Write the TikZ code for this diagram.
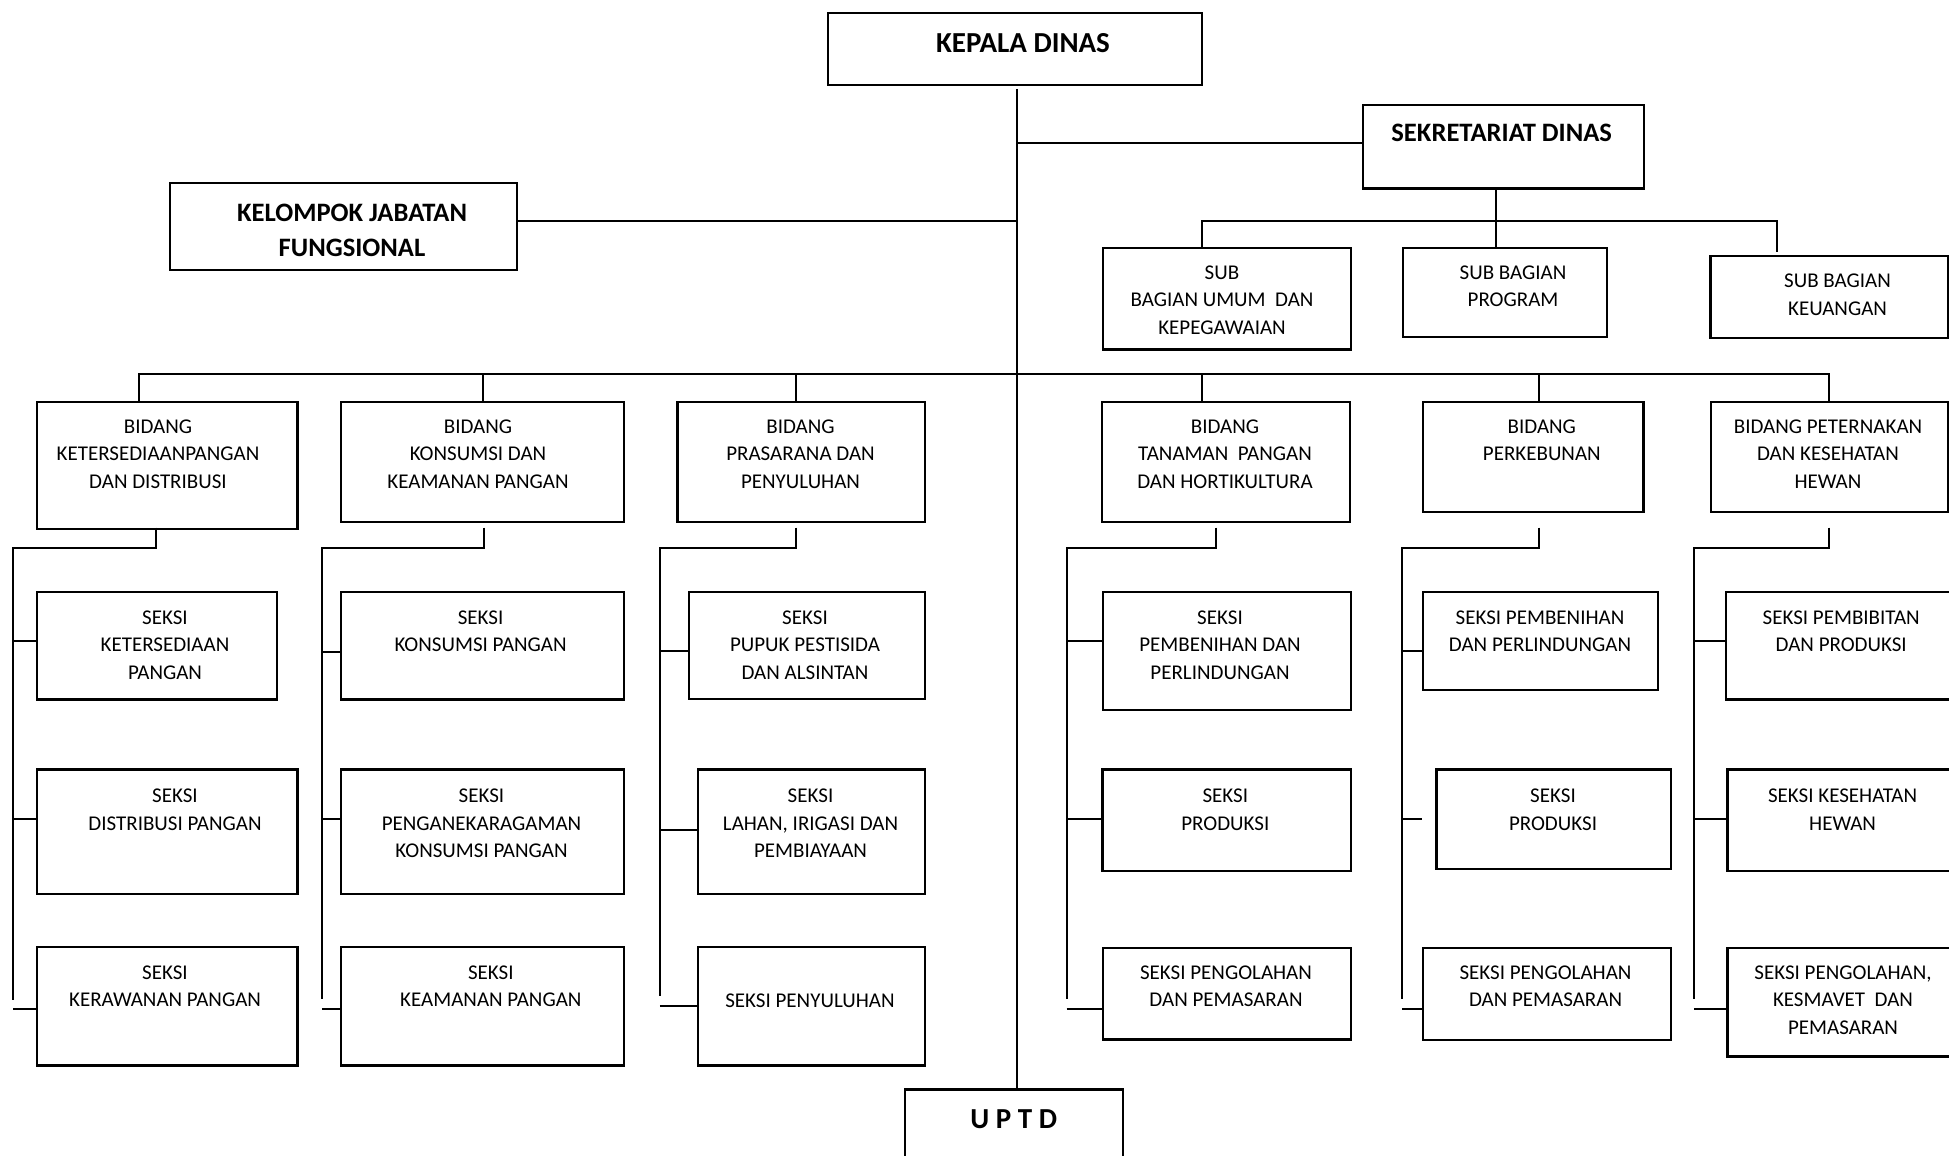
\documentclass[tikz,border=0pt]{standalone}
\usepackage{fontspec}
\setmainfont{Carlito}
\newcommand\mkbox[5]{\node[box, minimum width={(#4-#2)*0.5pt}, minimum height={(#5-#3)*0.5pt}] (#1) at (#2,#3) {};}
\newcommand\mktxt[5]{\node[#2] (#1-t) at (#3,#4) {#5};}
\newcommand\mkstub[4]{\coordinate (#1) at (#2,#3); \draw[conn] (#1) -- (#1 -| #4.west);}
\tikzset{
  box/.style={draw, line width=1.1pt, inner sep=0pt, anchor=north west},
  lbl/.style={font=\fontsize{10.5}{13.85}\selectfont, align=center, inner sep=0pt, anchor=north},
  hd/.style={font=\bfseries\fontsize{14.5}{17.5}\selectfont, align=center, inner sep=0pt, anchor=north},
  hds/.style={font=\bfseries\fontsize{13.3}{17.5}\selectfont, align=center, inner sep=0pt, anchor=north},
  conn/.style={line width=1pt},
}
\begin{document}
\begin{tikzpicture}[x=0.5pt, y=-0.5pt]
\useasboundingbox (0,0) rectangle (1949,1156);
\clip (0,0) rectangle (1949,1156);
% ---------- boxes ----------
\mkbox{kepala}{827}{12}{1201}{84}
\mkbox{sekr}{1361.6}{104}{1642.5}{187.3}
\mkbox{kelompok}{169}{181.7}{516}{268.7}
\mkbox{subumum}{1101.6}{246.7}{1350}{348.3}
\mkbox{subprog}{1401.7}{246.7}{1606.2}{335.7}
\mkbox{subkeu}{1709.4}{255}{1947}{336.7}
\mkbox{b1}{35.7}{400.7}{296.4}{527.7}
\mkbox{b2}{340}{400.7}{623}{520.7}
\mkbox{b3}{676.3}{400.7}{924}{520.7}
\mkbox{b4}{1100.9}{400.7}{1349}{521}
\mkbox{b5}{1421.7}{400.7}{1642.3}{511}
\mkbox{b6}{1709.8}{400.7}{1947}{511}
\mkbox{s1a}{35.7}{590.7}{276}{698.3}
\mkbox{s1b}{35.7}{768.3}{296.4}{892.7}
\mkbox{s1c}{35.7}{945.7}{296.4}{1064.3}
\mkbox{s2a}{340}{590.7}{623}{698.3}
\mkbox{s2b}{340}{768.3}{623}{892.7}
\mkbox{s2c}{340}{945.7}{623}{1064.3}
\mkbox{s3a}{687.5}{590.7}{924}{697.7}
\mkbox{s3b}{696.9}{768.3}{924}{892.7}
\mkbox{s3c}{696.9}{945.7}{924}{1064.3}
\mkbox{s4a}{1101.8}{590.7}{1350}{709}
\mkbox{s4b}{1101.3}{768.3}{1350}{870}
\mkbox{s4c}{1101.8}{946.7}{1350}{1038.3}
\mkbox{s5a}{1421.7}{590.7}{1657.2}{689}
\mkbox{s5b}{1435.3}{768.3}{1670}{867.7}
\mkbox{s5c}{1421.7}{946.7}{1670}{1039}
\mkbox{s6a}{1725}{590.7}{1953}{698.3}
\mkbox{s6b}{1726.3}{768.3}{1953}{870}
\mkbox{s6c}{1726.3}{946.7}{1953}{1055.3}
\mkbox{uptd}{904}{1088.3}{1121.9}{1175}
% ---------- texts ----------
\mktxt{kepala}{hd}{1023}{32.9}{KEPALA DINAS}
\mktxt{sekr}{hds}{1501.7}{123.3}{SEKRETARIAT DINAS}
\mktxt{kelompok}{hds}{352}{203.3}{KELOMPOK JABATAN\\FUNGSIONAL}
\mktxt{uptd}{hd}{1013.8}{1109.2}{U P T D}
\mktxt{subumum}{lbl}{1222}{265}{SUB\\BAGIAN UMUM~ DAN\\KEPEGAWAIAN}
\mktxt{subprog}{lbl}{1513}{265}{SUB BAGIAN\\PROGRAM}
\mktxt{subkeu}{lbl}{1837.5}{273.4}{SUB BAGIAN\\KEUANGAN}
\mktxt{b1}{lbl}{158}{419}{BIDANG\\KETERSEDIAANPANGAN\\DAN DISTRIBUSI}
\mktxt{b2}{lbl}{478}{419}{BIDANG\\KONSUMSI DAN\\KEAMANAN PANGAN}
\mktxt{b3}{lbl}{800.5}{419}{BIDANG\\PRASARANA DAN\\PENYULUHAN}
\mktxt{b4}{lbl}{1225}{419}{BIDANG\\TANAMAN~ PANGAN\\DAN HORTIKULTURA}
\mktxt{b5}{lbl}{1541.8}{419}{BIDANG\\PERKEBUNAN}
\mktxt{b6}{lbl}{1828}{419}{BIDANG PETERNAKAN\\DAN KESEHATAN\\HEWAN}
\mktxt{s1a}{lbl}{165}{610}{SEKSI\\KETERSEDIAAN\\PANGAN}
\mktxt{s1b}{lbl}{175}{788.4}{SEKSI\\DISTRIBUSI PANGAN}
\mktxt{s1c}{lbl}{165}{965}{SEKSI\\KERAWANAN PANGAN}
\mktxt{s2a}{lbl}{480.6}{610}{SEKSI\\KONSUMSI PANGAN}
\mktxt{s2b}{lbl}{481.5}{788.4}{SEKSI\\PENGANEKARAGAMAN\\KONSUMSI PANGAN}
\mktxt{s2c}{lbl}{490.8}{965}{SEKSI\\KEAMANAN PANGAN}
\mktxt{s3a}{lbl}{805}{610}{SEKSI\\PUPUK PESTISIDA\\DAN ALSINTAN}
\mktxt{s3b}{lbl}{810.5}{788.4}{SEKSI\\LAHAN, IRIGASI DAN\\PEMBIAYAAN}
\mktxt{s3c}{lbl}{810}{993.4}{SEKSI PENYULUHAN}
\mktxt{s4a}{lbl}{1220}{610}{SEKSI\\PEMBENIHAN DAN\\PERLINDUNGAN}
\mktxt{s4b}{lbl}{1225.3}{788.4}{SEKSI\\PRODUKSI}
\mktxt{s4c}{lbl}{1226}{965}{SEKSI PENGOLAHAN\\DAN PEMASARAN}
\mktxt{s5a}{lbl}{1540}{610}{SEKSI PEMBENIHAN\\DAN PERLINDUNGAN}
\mktxt{s5b}{lbl}{1553}{788.4}{SEKSI\\PRODUKSI}
\mktxt{s5c}{lbl}{1545.5}{965}{SEKSI PENGOLAHAN\\DAN PEMASARAN}
\mktxt{s6a}{lbl}{1841.2}{610}{SEKSI PEMBIBITAN\\DAN PRODUKSI}
\mktxt{s6b}{lbl}{1842.6}{788.4}{SEKSI KESEHATAN\\HEWAN}
\mktxt{s6c}{lbl}{1843}{965}{SEKSI PENGOLAHAN,\\KESMAVET~ DAN\\PEMASARAN}
% ---------- top connectors ----------
\coordinate (mt) at (1016.5,89);
\draw[conn] (mt) -- (mt |- uptd.north);
\coordinate (m1) at (1016.5,142.7);
\draw[conn] (m1) -- (m1 -| sekr.west);
\coordinate (m2) at (1016.5,220.7);
\draw[conn] (m2) -- (m2 -| kelompok.east);
\coordinate (sv) at (1496,187.3);
\draw[conn] (sv) -- (sv |- subprog.north);
\coordinate (sbl) at (1201.7,220.7);
\coordinate (sbr) at (1777,220.7);
\coordinate (sbe) at (1777,252);
\draw[conn] (sbl |- subumum.north) -- (sbl) -- (sbr) -- (sbe);
% ---------- bidang bus ----------
\coordinate (busL) at (139,374);
\coordinate (busR) at (1829,374);
\draw[conn] (busL |- b1.north) -- (busL) -- (busR) -- (busR |- b6.north);
\coordinate (d2) at (483,374);
\draw[conn] (d2) -- (d2 |- b2.north);
\coordinate (d3) at (796.4,374);
\draw[conn] (d3) -- (d3 |- b3.north);
\coordinate (d4) at (1201.7,374);
\draw[conn] (d4) -- (d4 |- b4.north);
\coordinate (d5) at (1538.7,374);
\draw[conn] (d5) -- (d5 |- b5.north);
% ---------- column trees ----------
% col 1
\coordinate (c1) at (155.8,527.7); \coordinate (k1) at (13,547.7); \coordinate (e1) at (13,1000);
\draw[conn] (c1) -- (c1 |- k1) -- (k1) -- (e1);
\mkstub{t1a}{13}{641}{s1a}
\mkstub{t1b}{13}{819}{s1b}
\mkstub{t1c}{13}{1009}{s1c}
% col 2
\coordinate (c2) at (484.4,527.7); \coordinate (k2) at (322.3,547.7); \coordinate (e2) at (322.3,999);
\draw[conn] (c2) -- (c2 |- k2) -- (k2) -- (e2);
\mkstub{t2a}{322.3}{652.3}{s2a}
\mkstub{t2b}{322.3}{819}{s2b}
\mkstub{t2c}{322.3}{1009}{s2c}
% col 3
\coordinate (c3) at (796.4,527.7); \coordinate (k3) at (659.8,547.7); \coordinate (e3) at (659.8,995.7);
\draw[conn] (c3) -- (c3 |- k3) -- (k3) -- (e3);
\mkstub{t3a}{659.8}{650.7}{s3a}
\mkstub{t3b}{659.8}{830}{s3b}
\mkstub{t3c}{659.8}{1005.7}{s3c}
% col 4
\coordinate (c4) at (1216,527.7); \coordinate (k4) at (1066.5,547.7); \coordinate (e4) at (1066.5,999.3);
\draw[conn] (c4) -- (c4 |- k4) -- (k4) -- (e4);
\mkstub{t4a}{1066.5}{641}{s4a}
\mkstub{t4b}{1066.5}{819}{s4b}
\mkstub{t4c}{1066.5}{1009}{s4c}
% col 5
\coordinate (c5) at (1538.8,527.7); \coordinate (k5) at (1402.2,547.7); \coordinate (e5) at (1402.2,999.3);
\draw[conn] (c5) -- (c5 |- k5) -- (k5) -- (e5);
\mkstub{t5a}{1402.2}{650.7}{s5a}
\coordinate (t5b) at (1402.2,819); \coordinate (t5be) at (1422,819);
\draw[conn] (t5b) -- (t5be);
\mkstub{t5c}{1402.2}{1009}{s5c}
% col 6
\coordinate (c6) at (1828.6,527.7); \coordinate (k6) at (1694,547.7); \coordinate (e6) at (1694,999.3);
\draw[conn] (c6) -- (c6 |- k6) -- (k6) -- (e6);
\mkstub{t6a}{1694}{641}{s6a}
\mkstub{t6b}{1694}{819}{s6b}
\mkstub{t6c}{1694}{1009}{s6c}
\end{tikzpicture}
\end{document}
